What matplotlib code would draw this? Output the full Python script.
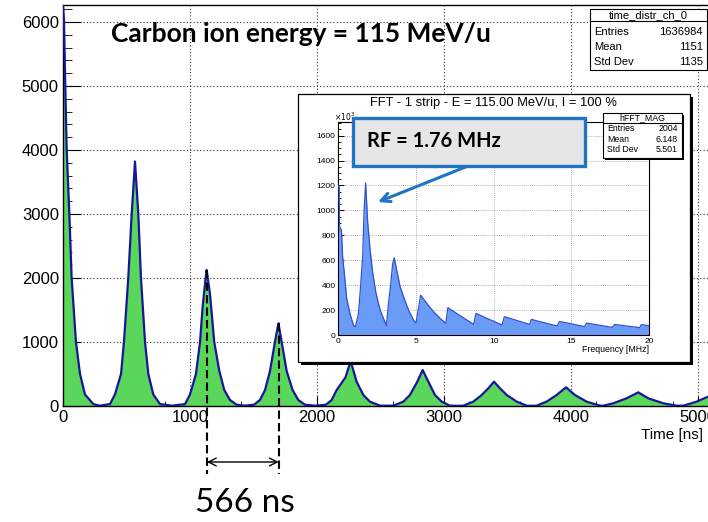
import numpy as np
import matplotlib.pyplot as plt
from matplotlib.patches import Rectangle
from matplotlib.ticker import MultipleLocator

plt.rcParams['font.family'] = ['Liberation Sans', 'DejaVu Sans']

# Zeitverteilung Kanal 0
zeit_ns = [0, 8, 18, 29, 50, 68, 102, 134, 173, 239, 290, 370, 409, 457, 480, 514, 541, 567,
           593, 614, 646, 672, 711, 764, 860, 961, 1000, 1047, 1079, 1100, 1123, 1131, 1157,
           1191, 1231, 1270, 1315, 1367, 1430, 1504, 1551, 1591, 1630, 1669, 1696, 1722, 1761,
           1808, 1853, 1906, 1990, 2070, 2116, 2155, 2225, 2265, 2312, 2365, 2417, 2496, 2550,
           2601, 2680, 2732, 2790, 2832, 2877, 2929, 2982, 3047, 3100, 3152, 3231, 3297, 3349,
           3394, 3441, 3494, 3573, 3651, 3690, 3730, 3808, 3887, 3961, 4031, 4123, 4228, 4255,
           4333, 4438, 4530, 4609, 4727, 4832, 4885, 4990, 5079]
counts = [6270, 6000, 5000, 4000, 3000, 2000, 1000, 500, 180, 30, 5, 30, 180, 500, 1000, 2000, 3000, 3820,
          3000, 2000, 1000, 500, 180, 30, 5, 30, 180, 500, 1000, 1560, 2000, 2125, 1760,
          1000, 547, 250, 94, 20, 5, 20, 94, 250, 547, 1000, 1292, 1000, 547,
          250, 94, 20, 5, 20, 94, 250, 450, 703, 380, 172, 68, 5, 5,
          5, 68, 172, 380, 562, 380, 172, 68, 5, 3, 5, 68, 172, 276,
          380, 276, 172, 68, 5, 3, 5, 68, 172, 292, 172, 68, 5, 5,
          42, 120, 213, 120, 42, 5, 5, 68, 146]

# FFT-Betrag (Inset), y in Einheiten von 10^3
freq_mhz = [0, 0.05, 0.08, 0.2, 0.28, 0.39, 0.54, 0.75, 0.97, 1.1, 1.3, 1.4, 1.57, 1.66, 1.76,
            1.89, 2.04, 2.22, 2.43, 2.69, 2.95, 3.1, 3.23, 3.38, 3.5, 3.6, 3.76, 3.98, 4.24,
            4.52, 4.84, 5.0, 5.3, 5.7, 6.13, 6.56, 6.92, 7.05, 8.71, 8.86, 10.54, 10.69,
            12.32, 12.43, 14.09, 14.24, 15.85, 15.98, 17.63, 17.79, 19.4, 19.5, 20.0]
fft_mag = [1200, 1190, 870, 840, 627, 493, 293, 173, 80, 65, 173, 333, 627, 1000, 1220,
           907, 693, 493, 333, 200, 120, 75, 253, 413, 573, 620, 520, 387, 293,
           200, 120, 95, 320, 253, 187, 133, 93, 219, 85, 173, 80, 147,
           85, 125, 72, 109, 67, 96, 61, 85, 59, 83, 75]

x_ticks = [0, 1000, 2000, 3000, 4000, 5000]
y_ticks = [0, 1000, 2000, 3000, 4000, 5000, 6000]
x_ticks_fft = [0, 5, 10, 15, 20]
y_ticks_fft = [0, 200, 400, 600, 800, 1000, 1200, 1400, 1600]

stats_main = [('Entries', '1636984'), ('Mean', '1151'), ('Std Dev', '1135')]
stats_fft = [('Entries', '2004'), ('Mean', '6.148'), ('Std Dev', '5.501')]

peak_a, peak_b = 1133, 1699
hoehe_a, hoehe_b = 2125, 1292

W, H = 708, 522
fig = plt.figure(figsize=(W / 100, H / 100), dpi=100)


def fx(px):
    return px / W


def fy(py):
    return 1 - py / H


def box(x0, y0, x1, y1, shadow=2, z=2, **kw):
    if shadow:
        fig.add_artist(Rectangle((fx(x0 + shadow), fy(y1 + shadow)), fx(x1) - fx(x0), fy(y0) - fy(y1),
                                 transform=fig.transFigure, facecolor='black', edgecolor='none', zorder=z))
    fig.add_artist(Rectangle((fx(x0), fy(y1)), fx(x1) - fx(x0), fy(y0) - fy(y1),
                             transform=fig.transFigure, zorder=z + 0.1, **kw))


def stats(x0, y0, x1, y1, ytitle, yline, rows_y, title, rows, size, z):
    box(x0, y0, x1, y1, shadow=1.5, z=z, facecolor='white', edgecolor='black', lw=0.8)
    fig.add_artist(plt.Line2D([fx(x0), fx(x1)], [fy(yline), fy(yline)], color='black', lw=0.8,
                              transform=fig.transFigure, zorder=z + 0.2))
    fig.text(fx((x0 + x1) / 2), fy(ytitle), title, ha='center', va='center', fontsize=size, zorder=z + 0.3)
    for (name, val), yy in zip(rows, rows_y):
        fig.text(fx(x0 + 4), fy(yy), name, ha='left', va='center', fontsize=size, zorder=z + 0.3)
        fig.text(fx(x1 - 4), fy(yy), val, ha='right', va='center', fontsize=size, zorder=z + 0.3)


################################################################################################################
# Hauptplot
ax = fig.add_axes([fx(63), fy(406), fx(708) - fx(63), fy(5) - fy(406)])
ax.vlines(x_ticks, 0, 6266, colors='#333333', linestyles=(0, (1, 2)), lw=0.8, zorder=1)
ax.hlines(y_ticks, 0, 5079, colors='#333333', linestyles=(0, (1, 2)), lw=0.8, zorder=1)
ax.fill_between(zeit_ns, counts, color='#5ad65a', lw=0, zorder=2)
ax.plot(zeit_ns, counts, color='#16169a', lw=1.6, zorder=3)
ax.set_xlim(0, 5079)
ax.set_ylim(0, 6266)
ax.set_xticks(x_ticks)
ax.set_yticks(y_ticks)
ax.xaxis.set_minor_locator(MultipleLocator(200))
ax.yaxis.set_minor_locator(MultipleLocator(200))
ax.tick_params(which='both', direction='in', labelsize=12, top=False, right=False)
ax.tick_params(axis='y', which='major', length=13, pad=3)
ax.tick_params(axis='y', which='minor', length=6.5)
ax.tick_params(axis='x', which='major', length=7, pad=3)
ax.tick_params(axis='x', which='minor', length=3.6)
ax.spines['right'].set_visible(False)
for s in ['left', 'bottom', 'top']:
    ax.spines[s].set_linewidth(1.0)
fig.text(fx(703), fy(435), 'Time [ns]', ha='right', va='center', fontsize=11)

# gestrichelte Linien + Pfeil 566 ns
ax.plot([peak_a, peak_a], [hoehe_a, -1060], color='black', ls=(0, (4, 2)), lw=1.5, clip_on=False, zorder=4)
ax.plot([peak_b, peak_b], [hoehe_b, -1060], color='black', ls=(0, (4, 2)), lw=1.5, clip_on=False, zorder=4)
ax.annotate('', xy=(peak_a, -875), xytext=(peak_b, -875), annotation_clip=False,
            arrowprops=dict(arrowstyle='<->', lw=1, color='black', shrinkA=0, shrinkB=0, mutation_scale=14))
fig.text(fx(245), fy(503), f'{peak_b - peak_a} ns', ha='center', va='center', fontsize=24, family='Lato')

fig.text(fx(111), fy(34), 'Carbon ion energy = 115 MeV/u', ha='left', va='center', fontsize=19,
         family='Lato', weight='bold')

stats(590, 9, 707, 70, 15, 20.5, [32, 47, 62], 'time_distr_ch_0', stats_main, 8, 3)

################################################################################################################
# Inset FFT
box(298, 94, 690, 362, shadow=2.5, z=4, facecolor='white', edgecolor='black', lw=0.9)
fig.text(fx(493), fy(103), 'FFT - 1 strip - E = 115.00 MeV/u, I = 100 %', ha='center', va='center',
         fontsize=9.3, zorder=5)

axi = fig.add_axes([fx(338.3), fy(335), fx(649) - fx(338.3), fy(121.7) - fy(335)])
axi.set_zorder(5)
axi.vlines(x_ticks_fft, 0, 1712, colors='#999999', linestyles=(0, (1, 1.5)), lw=0.6, zorder=1)
axi.hlines(y_ticks_fft, 0, 20, colors='#999999', linestyles=(0, (1, 1.5)), lw=0.6, zorder=1)
axi.fill_between(freq_mhz, fft_mag, color='#6a9cf7', lw=0, zorder=2)
axi.plot(freq_mhz, fft_mag, color='#3050cc', lw=0.9, zorder=3)
axi.set_xlim(0, 20)
axi.set_ylim(0, 1712)
axi.set_xticks(x_ticks_fft)
axi.set_yticks(y_ticks_fft)
axi.xaxis.set_minor_locator(MultipleLocator(1))
axi.yaxis.set_minor_locator(MultipleLocator(50))
axi.tick_params(which='both', direction='in', labelsize=6, top=False, right=False, pad=2)
axi.tick_params(which='major', length=4, width=0.7)
axi.tick_params(which='minor', length=2, width=0.6)
for s in axi.spines.values():
    s.set_linewidth(0.8)
fig.text(fx(649), fy(350), 'Frequency [MHz]', ha='right', va='center', fontsize=6.3, zorder=6)
fig.text(fx(334), fy(117), r'$\times10^{3}$', ha='left', va='center', fontsize=5.5, zorder=6)

stats(603, 113, 682, 158, 118, 123, [128.5, 139, 149.5], 'hFFT_MAG', stats_fft, 6.3, 6)

# RF Kasten + Pfeil
blau = '#1f74c4'
box(353, 118, 585, 166, shadow=0, z=8, facecolor='#e6e6e6', edgecolor=blau, lw=2.4)
fig.text(fx(367), fy(141), 'RF = 1.76 MHz', ha='left', va='center', fontsize=14.5, family='Lato',
         weight='bold', zorder=9)
axi.annotate('', xy=(fx(378), fy(202)), xytext=(fx(468), fy(166)), xycoords='figure fraction',
             textcoords='figure fraction',
             arrowprops=dict(arrowstyle='->', lw=2.2, color=blau, shrinkA=0, shrinkB=0, mutation_scale=16))

fig.savefig('out.png', dpi=100)
